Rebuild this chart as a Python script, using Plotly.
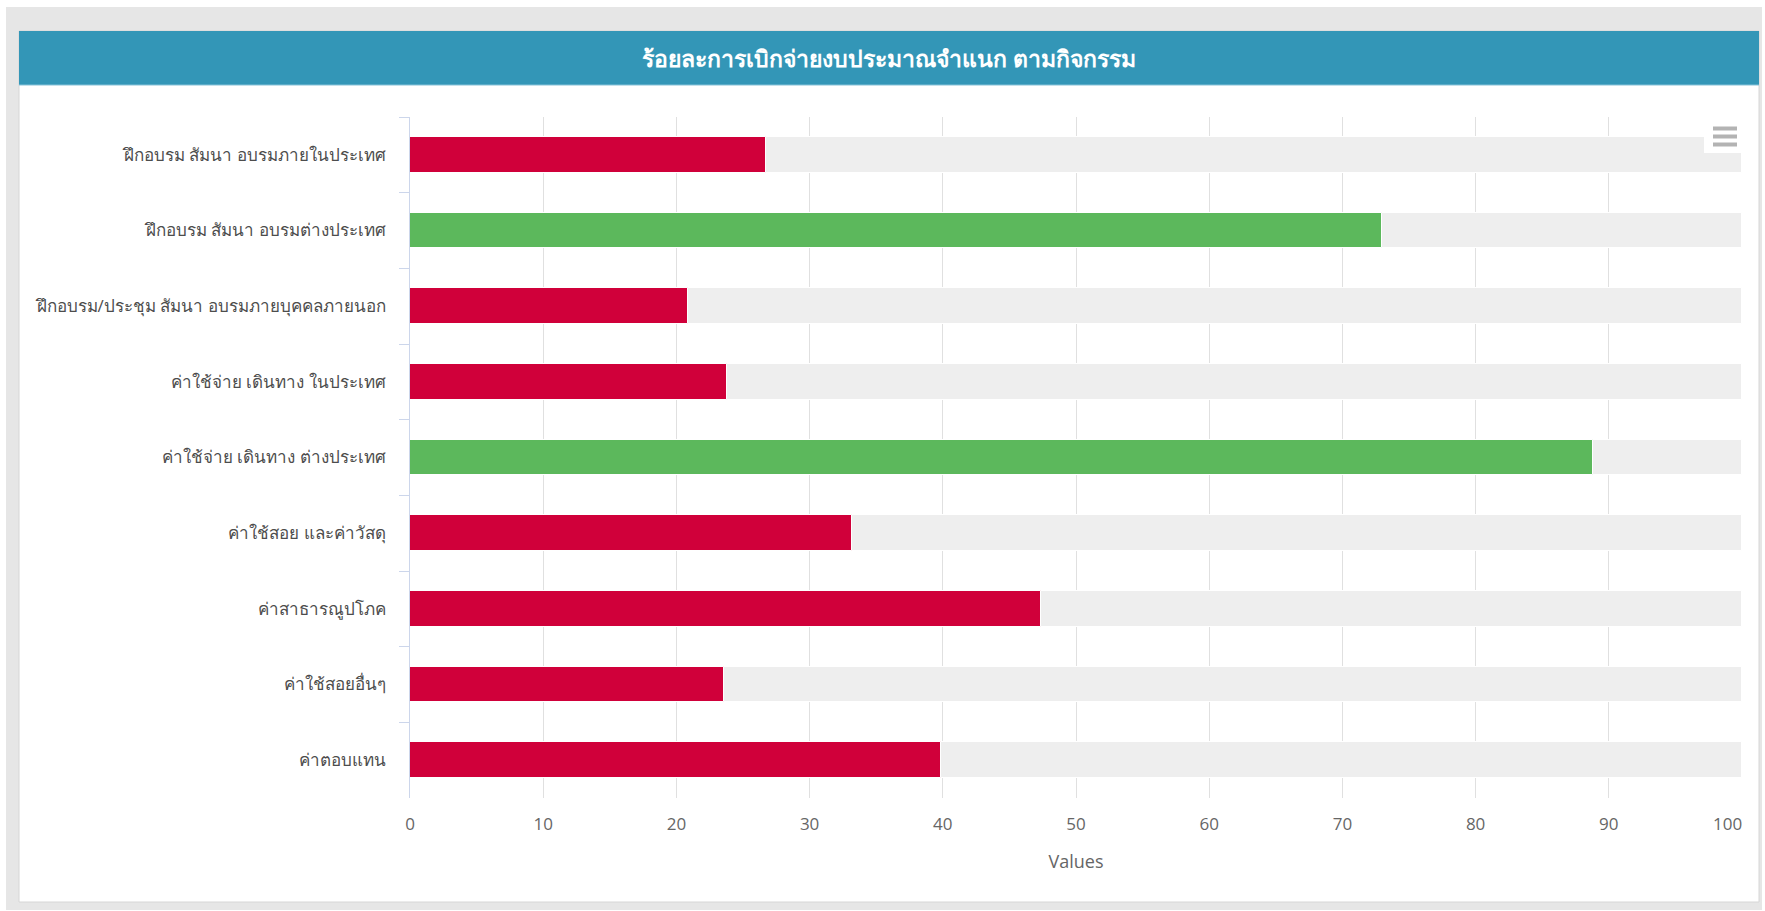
import plotly.graph_objects as go

# ---------------- data ----------------
categories = [
    "ฝึกอบรม สัมนา อบรมภายในประเทศ",
    "ฝึกอบรม สัมนา อบรมต่างประเทศ",
    "ฝึกอบรม/ประชุม สัมนา อบรมภายบุคคลภายนอก",
    "ค่าใช้จ่าย เดินทาง ในประเทศ",
    "ค่าใช้จ่าย เดินทาง ต่างประเทศ",
    "ค่าใช้สอย และค่าวัสดุ",
    "ค่าสาธารณูปโภค",
    "ค่าใช้สอยอื่นๆ",
    "ค่าตอบแทน",
]
values = [26.7, 73.0, 20.9, 23.8, 88.8, 33.2, 47.4, 23.6, 39.9]
axis_max = 100
x_ticks = [0, 10, 20, 30, 40, 50, 60, 70, 80, 90, 100]
title_text = "ร้อยละการเบิกจ่ายงบประมาณจำแนก ตามกิจกรรม"
x_title = "Values"
threshold = 50

# ---------------- layout helpers ----------------
W, H = 1765, 911
L, R, T, B = 410, 1742, 117, 798


def px(x):
    return (x - L) / (R - L)


def py(y):
    return (B - y) / (B - T)


RED = "#d0003a"
GREEN = "#5cb85c"
TRACK = "#eeeeee"
bar_colors = [GREEN if v >= threshold else RED for v in values]

FONT = "Open Sans, Noto Sans, sans-serif"
TICK_FONT = dict(family=FONT, size=17, color="#666666")

fig = go.Figure()
fig.add_trace(go.Bar(
    x=[axis_max] * len(categories), y=categories, orientation="h",
    marker=dict(color=TRACK, line=dict(color="white", width=1)),
    width=0.475, hoverinfo="skip", showlegend=False,
))
fig.add_trace(go.Bar(
    x=values, y=categories, orientation="h",
    marker=dict(color=bar_colors, line=dict(color="white", width=1)),
    width=0.475, showlegend=False,
))

shapes = [
    # outer grey frame
    dict(type="rect", xref="paper", yref="paper", x0=px(6), x1=px(1762), y0=py(910), y1=py(7),
         fillcolor="#e6e6e6", line=dict(width=0), layer="below"),
    # white panel
    dict(type="rect", xref="paper", yref="paper", x0=px(19), x1=px(1759), y0=py(902), y1=py(31),
         fillcolor="white", line=dict(color="#d6d6d6", width=1), layer="below"),
    # header band
    dict(type="rect", xref="paper", yref="paper", x0=px(19), x1=px(1759), y0=py(85), y1=py(31),
         fillcolor="#3396b7", line=dict(width=0), layer="below"),
    dict(type="line", xref="paper", yref="paper", x0=px(19), x1=px(1759), y0=py(85), y1=py(85),
         line=dict(color="#86c2d8", width=1), layer="below"),
    # export (hamburger) button
    dict(type="rect", xref="paper", yref="paper", x0=px(1704), x1=px(1743), y0=py(153), y1=py(125),
         fillcolor="white", line=dict(width=0), layer="above"),
]
for yy in (128.5, 136.5, 144.5):
    shapes.append(dict(type="line", xref="paper", yref="paper", x0=px(1713), x1=px(1737),
                       y0=py(yy), y1=py(yy), line=dict(color="#b3b3b3", width=4), layer="above"))

# last tick label is pulled inside the chart (as the source does)
tick_text = [str(t) for t in x_ticks]
tick_text[-1] = ""

annotations = [
    dict(text=title_text, xref="paper", yref="paper", x=px(889), y=py(58), showarrow=False,
         xanchor="center", yanchor="middle",
         font=dict(family=FONT, size=23, color="white", weight="bold")),
    dict(text=str(x_ticks[-1]), xref="x", yref="paper", x=x_ticks[-1], y=py(823), showarrow=False,
         xanchor="right", yanchor="middle", xshift=2, font=TICK_FONT),
]

fig.update_layout(
    width=W, height=H,
    margin=dict(l=L, r=W - R, t=T, b=H - B, autoexpand=False),
    paper_bgcolor="white", plot_bgcolor="white",
    barmode="overlay", bargap=0,
    shapes=shapes, annotations=annotations,
    xaxis=dict(
        range=[0, axis_max], tickvals=x_ticks, ticktext=tick_text,
        showgrid=True, gridcolor="#e0e0e0", gridwidth=1, zeroline=False, showline=False,
        ticks="", tickfont=TICK_FONT,
        ticklabelstandoff=14,
        title=dict(text=x_title, font=dict(family=FONT, size=18, color="#666666"), standoff=21),
        fixedrange=True,
    ),
    yaxis=dict(
        type="category", autorange="reversed", showgrid=False, zeroline=False,
        showline=True, linecolor="#ccd6eb", linewidth=1,
        ticks="outside", ticklen=10, tickcolor="#ccd6eb", tickson="boundaries",
        tickfont=dict(family=FONT, size=17, color="#4d4d4d"), ticklabelstandoff=20,
        fixedrange=True,
    ),
    showlegend=False,
)

fig.write_html(
    "out.html",
    config={"displayModeBar": False},
    post_script="document.body.style.margin='0';document.body.style.overflow='hidden';",
)
